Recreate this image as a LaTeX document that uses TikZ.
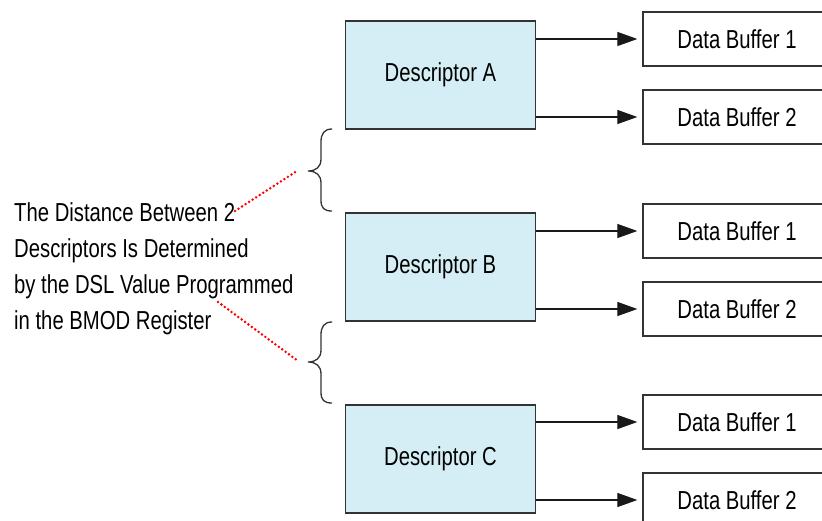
\documentclass[tikz,border=0pt]{standalone}
\usepackage{fontspec}
\setmainfont{Liberation Sans}[FakeStretch=0.78]
\usetikzlibrary{arrows.meta}
\definecolor{descfill}{HTML}{D5EDF4}
\definecolor{edge}{HTML}{333333}
\begin{document}
\begin{tikzpicture}[x=1pt,y=-1pt,
  lbl/.style={font=\fontsize{26}{36}\selectfont, inner sep=0pt},
  desc/.style={draw=edge, line width=1.5pt, fill=descfill, minimum width=190pt, minimum height=108pt, inner sep=0pt, font=\fontsize{26}{36}\selectfont},
  buf/.style={draw=edge, line width=1.3pt, fill=white, minimum width=188pt, minimum height=54pt, inner sep=0pt, font=\fontsize{26}{36}\selectfont},
  arr/.style={draw=black!90, line width=1.2pt, -{Triangle[length=20pt,width=14pt]}, shorten >=5pt},
  bracestyle/.style={draw=edge, line width=1.3pt},
  reddots/.style={draw=red, line width=2.8pt, line cap=round, dash pattern=on 0pt off 4.2pt}]
\useasboundingbox (0,0) rectangle (822,521);
\clip (0,0) rectangle (822,521);
\fill[white] (0,0) rectangle (822,521);

% descriptors
\node[desc] (dA) at (440.5,75) {Descriptor A};
\node[desc] (dB) at (440.5,267) {Descriptor B};
\node[desc] (dC) at (440.5,459) {Descriptor C};

% data buffers
\node[buf] (bA1) at (737,39) {Data Buffer 1};
\node[buf] (bA2) at (737,117) {Data Buffer 2};
\node[buf] (bB1) at (737,231) {Data Buffer 1};
\node[buf] (bB2) at (737,309) {Data Buffer 2};
\node[buf] (bC1) at (737,422) {Data Buffer 1};
\node[buf] (bC2) at (737,500) {Data Buffer 2};

% arrows
\foreach \d/\b in {dA/bA1,dA/bA2,dB/bB1,dB/bB2,dC/bC1,dC/bC2}
  \draw[arr] (\d.east |- \b.west) -- (\b.west);

% braces
\coordinate (br1) at (308,171);
\coordinate (br2) at (308,362);
\draw[bracestyle] (332,129) .. controls (324,129) and (321,134) .. (321,142) -- (321,159)
   .. controls (321,167) and (316,171) .. (br1)
   .. controls (316,171) and (321,175) .. (321,183) -- (321,200)
   .. controls (321,208) and (324,211) .. (332,211);
\draw[bracestyle] (332,322) .. controls (324,322) and (321,327) .. (321,335) -- (321,350)
   .. controls (321,358) and (316,362) .. (br2)
   .. controls (316,362) and (321,366) .. (321,374) -- (321,392)
   .. controls (321,400) and (324,403) .. (332,403);

% label text
\node[lbl, anchor=base west] (t1) at (14,222) {The Distance Between 2};
\node[lbl, anchor=base west] (t2) at (14,258) {Descriptors Is Determined};
\node[lbl, anchor=base west] (t3) at (14,294) {by the DSL Value Programmed};
\node[lbl, anchor=base west] (t4) at (14,330) {in the BMOD Register};

% red dotted leaders
\coordinate (r1s) at (235,211);
\coordinate (r1e) at (297,171);
\coordinate (r2s) at (218,302);
\coordinate (r2e) at (298,361);
\draw[reddots] (r1s) -- (r1e);
\draw[reddots] (r2s) -- (r2e);
\end{tikzpicture}
\end{document}
